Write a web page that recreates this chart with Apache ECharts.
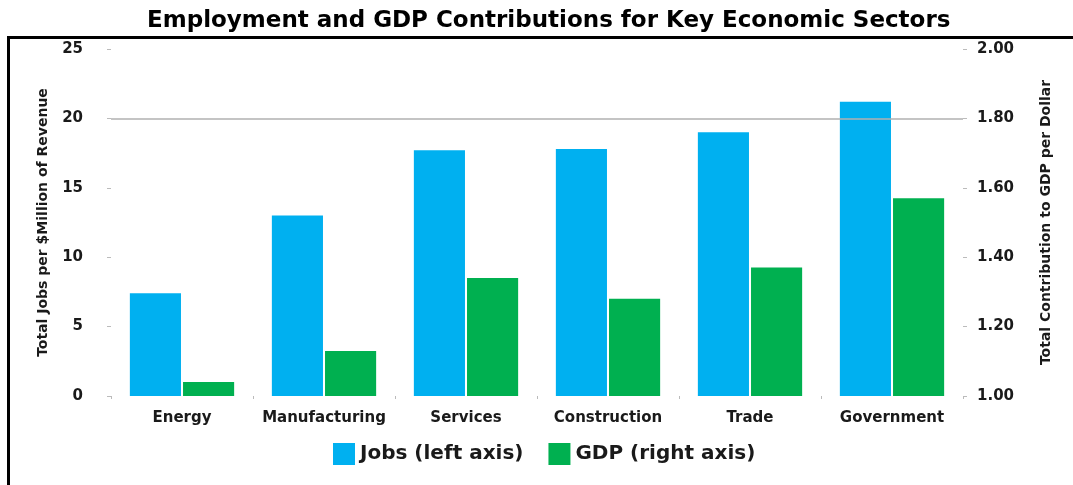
<!DOCTYPE html>
<html>
<head>
<meta charset="utf-8">
<script src="https://cdn.jsdelivr.net/npm/echarts@6/dist/echarts.min.js"></script>
<style>
  html, body { margin: 0; padding: 0; background: #fff; }
  #chart { width: 1073px; height: 485px; }
</style>
</head>
<body>
<div id="chart"></div>
<script>
var sectors = ['Energy', 'Manufacturing', 'Services', 'Construction', 'Trade', 'Government'];
var jobs = [7.4, 13.0, 17.7, 17.8, 19.0, 21.2];
var gdp = [1.04, 1.13, 1.34, 1.28, 1.37, 1.57];
var leftTicks = [0, 5, 10, 15, 20, 25];
var rightTicks = [1.0, 1.2, 1.4, 1.6, 1.8, 2.0];

var chart = echarts.init(document.getElementById('chart'));

var font = 'DejaVu Sans, Arial, sans-serif';
var labelStyle = {
  fontFamily: font,
  fontWeight: 'bold',
  color: '#1a1a1a'
};

var option = {
  backgroundColor: '#ffffff',
  animation: false,
  title: {
    text: 'Employment and GDP Contributions for Key Economic Sectors',
    left: 142,
    top: 5,
    textStyle: {
      fontFamily: font,
      fontWeight: 'bold',
      fontSize: 23,
      color: '#000'
    }
  },
  graphic: [
    { type: 'line', shape: { x1: 8.5, y1: 36, x2: 8.5, y2: 485 }, style: { stroke: '#000', lineWidth: 3 } },
    { type: 'line', shape: { x1: 7, y1: 37.5, x2: 1073, y2: 37.5 }, style: { stroke: '#000', lineWidth: 3 } }
  ],
  legend: {
    top: 438,
    left: 328,
    itemWidth: 22,
    itemHeight: 22,
    itemGap: 25,
    icon: 'rect',
    textStyle: Object.assign({ fontSize: 20 }, labelStyle),
    data: ['Jobs (left axis)', 'GDP (right axis)']
  },
  grid: {
    left: 111,
    right: 110,
    top: 49,
    bottom: 89
  },
  xAxis: {
    type: 'category',
    data: sectors,
    axisLine: { show: false },
    axisTick: { show: true, length: 3, lineStyle: { color: '#bbb' } },
    axisLabel: Object.assign({ fontSize: 15, margin: 15, interval: 0 }, labelStyle)
  },
  yAxis: [{
    type: 'value',
    min: leftTicks[0],
    max: leftTicks[leftTicks.length - 1],
    interval: 5,
    name: 'Total Jobs per $Million of Revenue',
    nameLocation: 'middle',
    nameGap: 61,
    nameTextStyle: Object.assign({ fontSize: 14 }, labelStyle),
    axisLine: { show: false },
    axisTick: { show: true, length: 4, lineStyle: { color: '#bbb' } },
    splitLine: { show: false },
    axisLabel: Object.assign({ fontSize: 15, margin: 28 }, labelStyle)
  }, {
    type: 'value',
    min: rightTicks[0],
    max: rightTicks[rightTicks.length - 1],
    interval: 0.2,
    name: 'Total Contribution to GDP per Dollar',
    nameLocation: 'middle',
    nameGap: 76,
    nameTextStyle: Object.assign({ fontSize: 14 }, labelStyle),
    axisLine: { show: false },
    axisTick: { show: true, length: 4, lineStyle: { color: '#bbb' } },
    splitLine: { show: false },
    axisLabel: Object.assign({
      fontSize: 15,
      margin: 14,
      formatter: function (v) { return v.toFixed(2); }
    }, labelStyle)
  }],
  series: [{
    name: 'Jobs (left axis)',
    type: 'bar',
    yAxisIndex: 0,
    data: jobs,
    barWidth: '36%',
    barGap: '4%',
    itemStyle: { color: '#00B0F0' },
    markLine: {
      silent: true,
      symbol: 'none',
      label: { show: false },
      lineStyle: { color: '#b0b0b0', type: 'solid', width: 1.5 },
      data: [{ yAxis: 20 }]
    }
  }, {
    name: 'GDP (right axis)',
    type: 'bar',
    yAxisIndex: 1,
    data: gdp,
    barWidth: '36%',
    itemStyle: { color: '#00B050' }
  }]
};

chart.setOption(option);
</script>
</body>
</html>
